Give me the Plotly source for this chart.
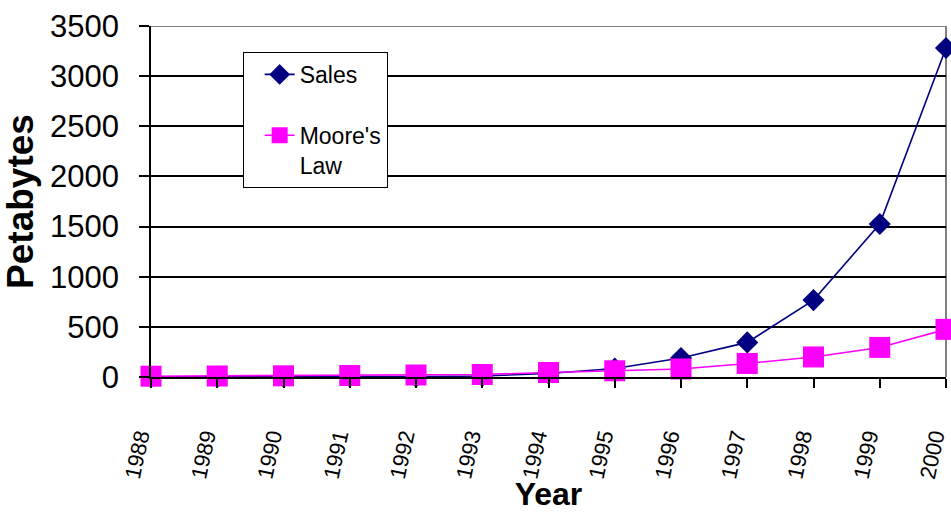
import plotly.graph_objects as go

# Annual storage sold vs. a Moore's-law growth curve, in petabytes
years = [1988, 1989, 1990, 1991, 1992, 1993, 1994, 1995, 1996, 1997, 1998, 1999, 2000]
sales = [1, 1, 2, 3, 4, 10, 35, 85, 190, 345, 767, 1525, 3280]
moores_law = [8, 10, 12, 15, 20, 25, 45, 62, 80, 135, 200, 295, 475]
y_ticks = [0, 500, 1000, 1500, 2000, 2500, 3000, 3500]

SANS = "Liberation Sans, Arial, sans-serif"

fig = go.Figure()
fig.add_trace(go.Scatter(
    x=years, y=sales, name="Sales", mode="lines+markers",
    line=dict(color="#000080", width=1.6),
    marker=dict(symbol="diamond", size=17, color="#000080"),
    cliponaxis=False, legendgroup="a",
))
fig.add_trace(go.Scatter(
    x=years, y=moores_law, name="Moore's<br>Law", mode="lines+markers",
    line=dict(color="#FF00FF", width=1.6),
    marker=dict(symbol="square", size=21, color="#FF00FF"),
    cliponaxis=False, legendgroup="b",
))

# gray frame on the top and right edges of the plot area
fig.add_shape(type="line", xref="paper", yref="y", x0=0, x1=1, y0=3500, y1=3500,
              line=dict(color="#808080", width=2), layer="between")
fig.add_shape(type="line", xref="paper", yref="paper", x0=1, x1=1, y0=0, y1=1,
              line=dict(color="#808080", width=2), layer="between")

fig.update_layout(
    width=951, height=512,
    margin=dict(l=151, r=5, t=26, b=135),
    paper_bgcolor="white", plot_bgcolor="white",
    font=dict(family=SANS, color="black"),
    legend=dict(
        x=0.1153, y=0.926, xanchor="left", yanchor="top",
        bgcolor="white", bordercolor="black", borderwidth=1,
        font=dict(family=SANS, size=23, color="black"),
        tracegroupgap=28, valign="top", indentation=16,
    ),
    xaxis=dict(
        range=[1988, 2000], tickmode="array", tickvals=years,
        ticktext=[str(y) for y in years], tickangle=-78,
        tickfont=dict(family=SANS, size=22, color="black"),
        ticks="outside", ticklen=9, tickwidth=1.5, tickcolor="black",
        showline=True, linecolor="black", linewidth=1.5,
        showgrid=False, zeroline=False, ticklabelstandoff=27,
        ticklabelshift=-12, ticklabeloverflow="allow", automargin=False,
        title=dict(text="<b>Year</b>", font=dict(family=SANS, size=32, color="black"),
                   standoff=2),
    ),
    yaxis=dict(
        range=[0, 3500], tickmode="array", tickvals=y_ticks,
        tickfont=dict(family=SANS, size=31, color="black"),
        ticks="outside", ticklen=10, tickwidth=1.5, tickcolor="black",
        showline=True, linecolor="black", linewidth=1.5,
        showgrid=True, gridcolor="black", gridwidth=1.5,
        zeroline=False, ticklabelstandoff=14, automargin=False,
        title=dict(text="<b>Petabytes</b>", font=dict(family=SANS, size=37, color="black"),
                   standoff=10),
    ),
    showlegend=True,
)

fig.write_html("out.html")
